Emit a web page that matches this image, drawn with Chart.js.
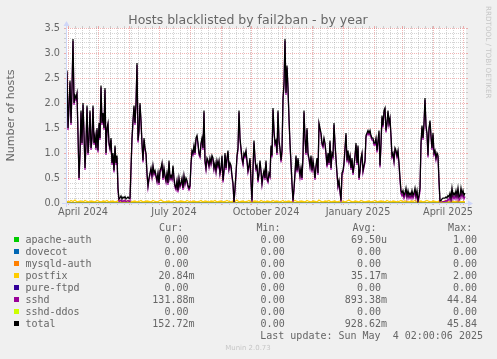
<!DOCTYPE html>
<html>
<head>
<meta charset="utf-8">
<script src="https://cdn.jsdelivr.net/npm/chart.js@4.4.1/dist/chart.umd.min.js"></script>
<style>
  html, body { margin:0; padding:0; background:#F0F0F0; }
  #wrap { position:relative; width:497px; height:359px; overflow:hidden; background:#F0F0F0; }
  #c { position:absolute; left:0; top:0; }
  .txt { position:absolute; white-space:pre; color:#666666; }
  .title { font-family:"DejaVu Sans"; font-size:12.5px; line-height:15px; left:0; width:496px; text-align:center; top:12.2px; }
  .leg { font-family:"DejaVu Sans Mono"; font-size:10px; line-height:12px; }
  .sq { position:absolute; width:5px; height:5px; }
  .wm { font-family:"DejaVu Sans"; color:#C7C7C7; }
  #rrd { writing-mode:vertical-rl; font-size:7.2px; line-height:8px; left:484px; top:6px; }
  #munin { font-size:6.94px; line-height:8px; left:0; width:496px; text-align:center; top:344.3px; }
</style>
</head>
<body>
<div id="wrap">
  <canvas id="c" width="497" height="359"></canvas>
  <div class="txt title">Hosts blacklisted by fail2ban - by year</div>
  <div class="txt wm" id="rrd">RRDTOOL / TOBI OETIKER</div>
  <div class="txt wm" id="munin">Munin 2.0.73</div>
</div>
<script>
// ---------------- data ----------------
const seriesNames  = ['apache-auth','dovecot','mysqld-auth','postfix','pure-ftpd','sshd','sshd-ddos','total'];
const seriesColors = ['#00CC00','#0066B3','#FF8000','#FFCC00','#330099','#990099','#CCFF00','#000000'];
const curValues = ['0.00 ','0.00 ','0.00 ','20.84m','0.00 ','131.88m','0.00 ','152.72m'];
const minValues = ['0.00 ','0.00 ','0.00 ','0.00 ','0.00 ','0.00 ','0.00 ','0.00 '];
const avgValues = ['69.50u','0.00 ','0.00 ','35.17m','0.00 ','893.38m','0.00 ','928.62m'];
const maxValues = ['1.00 ','0.00 ','0.00 ','2.00 ','0.00 ','44.84 ','0.00 ','45.84 '];
const columnHeaders = ['Cur:','Min:','Avg:','Max:'];
const lastUpdate = 'Last update: Sun May  4 02:00:06 2025';

// days counted from 30 March 2024
const monthStartDays   = [2,32,63,93,124,155,185,216,246,277,308,336,367,397];
const quarterLabelDays = [17,108,200,292,382];
const quarterLabels    = ['April 2024','July 2024','October 2024','January 2025','April 2025'];
const yTickLabels      = ['0.0','0.5','1.0','1.5','2.0','2.5','3.0','3.5'];

const dailyFirstDay = 1;
const totalHosts = [
2.65,1.5,1.95,2.45,1.6,2.3,3.28,2.0,2.15,2.1,
2.2,1.4,0.5,1.0,1.85,1.2,2.0,1.4,0.7,1.2,
1.95,1.0,1.3,1.85,1.1,1.3,1.95,1.2,1.35,1.1,
1.5,1.05,1.6,1.3,2.35,1.6,1.8,1.5,2.3,1.0,
1.5,1.6,1.2,1.1,1.3,0.8,1.0,0.65,1.15,0.8,
0.95,0.3,0.08,0.1,0.14,0.08,0.12,0.1,0.13,0.08,
0.1,0.12,0.09,0.1,0.7,1.3,1.65,1.95,1.6,2.0,
2.8,1.25,1.45,2.0,1.65,1.2,0.85,1.3,1.1,1.0,
0.6,0.35,0.5,0.6,0.7,0.55,0.75,0.6,0.65,0.55,
0.45,0.6,0.4,0.65,0.7,0.8,0.5,0.7,0.55,0.45,
0.6,0.4,0.85,0.5,0.55,0.5,0.75,0.5,0.35,0.3,
0.45,0.25,0.5,0.35,0.4,0.5,0.3,0.55,0.4,0.5,
0.45,0.35,0.3,0.35,0.8,1.05,1.0,1.15,1.0,1.3,
1.35,1.2,1.0,0.95,1.2,1.3,1.1,1.85,0.85,0.7,
0.9,0.85,0.75,0.9,0.8,0.95,0.9,0.7,0.8,0.65,
0.85,0.75,0.85,0.6,0.7,0.95,0.45,0.65,1.0,0.7,
0.9,1.05,0.7,0.8,0.75,0.55,0.4,0.02,0.3,0.6,
0.95,1.1,1.85,1.3,1.1,0.9,0.8,1.0,0.95,1.05,
0.85,0.65,0.75,0.9,0.45,0.05,0.7,1.25,0.9,0.7,
0.75,0.45,0.6,0.85,0.65,0.4,0.55,0.65,0.5,0.85,
0.5,0.45,0.6,0.55,1.15,0.95,1.9,1.45,1.2,1.25,
1.0,1.85,1.25,1.1,0.85,1.05,2.1,2.4,3.28,2.2,
2.75,2.3,1.7,1.2,0.8,0.4,0.05,0.3,0.6,0.95,
0.65,0.9,0.7,0.55,0.7,0.5,0.95,1.85,1.3,1.0,
1.5,1.0,0.9,0.75,0.95,0.65,0.85,0.7,0.5,0.75,
0.9,0.6,1.6,1.5,1.4,1.2,1.15,1.3,1.2,1.0,
0.75,1.0,0.8,1.25,0.7,1.0,0.95,1.6,1.2,0.9,
0.6,0.35,0.45,0.25,0.05,0.6,0.65,0.8,1.1,1.4,
0.85,1.05,0.85,0.95,0.7,0.9,0.6,0.75,0.95,1.2,
0.8,1.15,0.5,0.65,0.9,1.0,0.65,0.75,0.85,1.35,
1.4,1.45,1.4,1.45,1.35,1.3,1.3,1.2,1.2,1.3,
1.05,1.25,1.45,0.75,1.2,1.75,1.55,1.85,1.9,1.45,
1.6,1.85,1.6,1.7,1.35,0.95,1.0,0.85,1.1,1.05,
0.95,1.05,0.8,0.5,0.25,0.2,0.25,0.15,0.2,0.3,
0.15,0.25,0.15,0.2,0.15,0.25,0.15,0.2,0.3,0.15,
0.25,0.05,0.15,0.3,1.2,1.55,1.3,1.6,2.1,1.55,
1.4,0.95,1.5,1.65,1.35,1.1,1.4,1.0,1.05,0.9,
1.0,0.95,0.45,0.05,0.05,0.08,0.1,0.1,0.1,0.12,
0.1,0.15,0.12,0.2,0.1,0.3,0.15,0.2,0.15,0.25,
0.15,0.3,0.12,0.15,0.3,0.18,0.25,0.15,0.2
];
const sshdHosts = [
2.61,1.46,1.91,2.41,1.56,2.26,3.24,1.96,2.11,2.06,
2.16,1.36,0.46,0.96,1.81,1.16,1.96,1.36,0.66,1.16,
1.91,0.96,1.26,1.81,1.06,1.26,1.91,1.16,1.31,1.06,
1.46,1.01,1.56,1.26,2.31,1.56,1.76,1.46,2.26,0.96,
1.46,1.56,1.16,1.06,1.26,0.76,0.96,0.61,1.11,0.76,
0.91,0.26,0.03,0.04,0.06,0.02,0.05,0.03,0.06,0.02,
0.04,0.05,0.03,0.03,0.66,1.26,1.61,1.91,1.56,1.96,
2.76,1.21,1.41,1.96,1.61,1.16,0.81,1.26,1.06,0.96,
0.56,0.31,0.46,0.56,0.66,0.51,0.71,0.56,0.61,0.51,
0.41,0.56,0.36,0.61,0.66,0.76,0.46,0.66,0.51,0.41,
0.56,0.36,0.81,0.46,0.51,0.46,0.71,0.46,0.31,0.26,
0.41,0.21,0.46,0.31,0.36,0.46,0.26,0.51,0.36,0.46,
0.41,0.31,0.26,0.31,0.76,1.01,0.96,1.11,0.96,1.26,
1.31,1.16,0.96,0.91,1.16,1.26,1.06,1.81,0.81,0.66,
0.86,0.81,0.71,0.86,0.76,0.91,0.86,0.66,0.76,0.61,
0.81,0.71,0.81,0.56,0.66,0.91,0.41,0.61,0.96,0.66,
0.86,1.01,0.66,0.76,0.71,0.51,0.36,0.0,0.26,0.56,
0.91,1.06,1.81,1.26,1.06,0.86,0.76,0.96,0.91,1.01,
0.81,0.61,0.71,0.86,0.41,0.02,0.66,1.21,0.86,0.66,
0.71,0.41,0.56,0.81,0.61,0.36,0.51,0.61,0.46,0.81,
0.46,0.41,0.56,0.51,1.11,0.91,1.86,1.41,1.16,1.21,
0.96,1.81,1.21,1.06,0.81,1.01,2.06,2.36,3.24,2.16,
2.71,2.26,1.66,1.16,0.76,0.36,0.02,0.26,0.56,0.91,
0.61,0.86,0.66,0.51,0.66,0.46,0.91,1.81,1.26,0.96,
1.46,0.96,0.86,0.71,0.91,0.61,0.81,0.66,0.46,0.71,
0.86,0.56,1.56,1.46,1.36,1.16,1.11,1.26,1.16,0.96,
0.71,0.96,0.76,1.21,0.66,0.96,0.91,1.56,1.16,0.86,
0.56,0.31,0.41,0.21,0.02,0.56,0.61,0.76,1.06,1.36,
0.81,1.01,0.81,0.91,0.66,0.86,0.56,0.71,0.91,1.16,
0.76,1.11,0.46,0.61,0.86,0.96,0.61,0.71,0.81,1.31,
1.36,1.41,1.36,1.41,1.31,1.26,1.26,1.16,1.16,1.26,
1.01,1.21,1.41,0.71,1.16,1.71,1.51,1.81,1.86,1.41,
1.56,1.81,1.56,1.66,1.31,0.91,0.96,0.81,1.06,1.01,
0.91,1.01,0.76,0.46,0.19,0.14,0.19,0.09,0.14,0.24,
0.09,0.19,0.09,0.14,0.09,0.19,0.09,0.14,0.24,0.09,
0.19,0.01,0.09,0.24,1.16,1.51,1.26,1.56,2.06,1.51,
1.36,0.91,1.46,1.61,1.31,1.06,1.36,0.96,1.01,0.86,
0.96,0.91,0.41,0.01,0.01,0.02,0.03,0.03,0.03,0.05,
0.03,0.08,0.05,0.13,0.03,0.23,0.08,0.13,0.08,0.18,
0.08,0.23,0.05,0.08,0.23,0.11,0.18,0.08,0.13
];
const postfixFirstDay = 1;
const postfixStepDays = 2;
const postfixHosts = [
0.03,0.02,0.05,0.03,0.06,0.02,0.03,0.04,0.02,0.05,
0.03,0.02,0.04,0.03,0.02,0.05,0.03,0.02,0.04,0.03,
0.05,0.02,0.03,0.04,0.02,0.03,0.06,0.03,0.02,0.04,
0.03,0.05,0.02,0.03,0.04,0.02,0.03,0.05,0.02,0.03,
0.04,0.03,0.02,0.05,0.03,0.02,0.04,0.06,0.03,0.02,
0.03,0.04,0.02,0.03,0.05,0.02,0.03,0.04,0.03,0.02,
0.05,0.03,0.02,0.04,0.03,0.02,0.03,0.05,0.02,0.04,
0.03,0.02,0.04,0.03,0.05,0.02,0.03,0.04,0.02,0.03,
0.05,0.03,0.02,0.04,0.03,0.06,0.02,0.03,0.04,0.02,
0.03,0.05,0.02,0.03,0.04,0.03,0.02,0.05,0.03,0.02,
0.04,0.03,0.02,0.05,0.03,0.04,0.02,0.03,0.05,0.02,
0.03,0.04,0.02,0.03,0.05,0.03,0.02,0.04,0.03,0.02,
0.05,0.03,0.02,0.04,0.03,0.02,0.06,0.03,0.02,0.04,
0.03,0.05,0.02,0.03,0.04,0.02,0.03,0.05,0.03,0.02,
0.04,0.06,0.03,0.02,0.04,0.03,0.02,0.05,0.03,0.02,
0.03,0.04,0.02,0.03,0.05,0.02,0.03,0.04,0.03,0.02,
0.05,0.03,0.02,0.04,0.03,0.02,0.03,0.05,0.02,0.04,
0.03,0.02,0.04,0.03,0.05,0.02,0.03,0.04,0.02,0.03,
0.05,0.03,0.02,0.04,0.03,0.02,0.04,0.03,0.02,0.05,
0.03,0.02,0.04,0.03,0.02,0.03,0.04,0.02,0.03,0.02
];
const flatDays = [1, 399];
const apacheAuthHosts = [0, 0];
const dovecotHosts    = [0, 0];
const mysqldAuthHosts = [0, 0];
const pureFtpdHosts   = [0, 0];
const sshdDdosHosts   = [0, 0];

// ---------------- chart ----------------
const MAJOR = 'rgba(222,79,79,0.42)';
const MINOR = 'rgba(143,143,143,0.38)';
const AXIS  = '#CFD6F8';
const FONT  = '#666666';

const weekDays = [];
for (let d = monthStartDays[0]; d <= 400; d += 7) if (!monthStartDays.includes(d)) weekDays.push(d);
const xTickValues = [...new Set([...weekDays, ...monthStartDays, ...quarterLabelDays])].sort((a,b)=>a-b);

function xGridColor(v) {
  if (monthStartDays.includes(v)) return MAJOR;
  if (weekDays.includes(v)) return MINOR;
  return null;
}
function yGridColor(v) {
  return Math.round(v * 10) % 5 === 0 ? MAJOR : MINOR;
}
function daily(values, first, step) { return values.map((v, i) => ({x: first + i * step, y: v})); }
function pairs(xs, ys) { return ys.map((v, i) => ({x: xs[i], y: v})); }

const rrdPlugin = {
  id: 'rrd',
  beforeDraw(chart) {
    const {ctx, chartArea: a} = chart;
    ctx.save();
    ctx.fillStyle = '#F0F0F0'; ctx.fillRect(0, 0, chart.width, chart.height);
    ctx.fillStyle = '#FFFFFF'; ctx.fillRect(a.left, a.top, a.right - a.left, a.bottom - a.top);
    ctx.restore();
  },
  afterDatasetsDraw(chart) {
    const {ctx, chartArea: a, scales} = chart;
    ctx.save();
    ctx.lineWidth = 1;
    scales.x.ticks.forEach(t => {
      const c = xGridColor(t.value); if (!c) return;
      const px = Math.round(scales.x.getPixelForValue(t.value) - 0.5) + 0.5;
      ctx.strokeStyle = c; ctx.beginPath(); ctx.moveTo(px, a.top - 2); ctx.lineTo(px, a.top); ctx.stroke();
    });
    scales.y.ticks.forEach(t => {
      const py = Math.round(scales.y.getPixelForValue(t.value) - 0.5) + 0.5;
      ctx.strokeStyle = yGridColor(t.value); ctx.beginPath(); ctx.moveTo(a.right, py); ctx.lineTo(a.right + 2, py); ctx.stroke();
    });
    const x0 = a.left + 0.5, y0 = a.bottom + 0.5;
    ctx.strokeStyle = AXIS;
    ctx.beginPath(); ctx.moveTo(a.left - 4, y0); ctx.lineTo(a.right + 4, y0); ctx.stroke();
    ctx.beginPath(); ctx.moveTo(x0, a.bottom + 4); ctx.lineTo(x0, a.top - 4); ctx.stroke();
    ctx.fillStyle = AXIS;
    ctx.beginPath(); ctx.moveTo(a.right + 2, y0 - 3); ctx.lineTo(a.right + 2, y0 + 3); ctx.lineTo(a.right + 7, y0); ctx.closePath(); ctx.fill();
    ctx.beginPath(); ctx.moveTo(x0 - 3, a.top - 2); ctx.lineTo(x0 + 3, a.top - 2); ctx.lineTo(x0, a.top - 7); ctx.closePath(); ctx.fill();
    ctx.restore();
  }
};

const common = {borderWidth: 1, pointRadius: 0, fill: false, tension: 0};
const datasets = [
  {label: seriesNames[0], data: pairs(flatDays, apacheAuthHosts), borderColor: seriesColors[0], order: 7},
  {label: seriesNames[1], data: pairs(flatDays, dovecotHosts), borderColor: seriesColors[1], order: 6},
  {label: seriesNames[2], data: pairs(flatDays, mysqldAuthHosts), borderColor: seriesColors[2], order: 5},
  {label: seriesNames[3], data: daily(postfixHosts, postfixFirstDay, postfixStepDays), borderColor: seriesColors[3], order: 4, borderWidth: 1.3},
  {label: seriesNames[4], data: pairs(flatDays, pureFtpdHosts), borderColor: seriesColors[4], order: 3},
  {label: seriesNames[5], data: daily(sshdHosts, dailyFirstDay, 1), borderColor: seriesColors[5], order: 2, borderWidth: 1.25},
  {label: seriesNames[6], data: pairs(flatDays, sshdDdosHosts), borderColor: seriesColors[6], order: 1},
  {label: seriesNames[7], data: daily(totalHosts, dailyFirstDay, 1), borderColor: seriesColors[7], order: 0, borderWidth: 1.25}
].map(d => Object.assign({}, common, d));

new Chart(document.getElementById('c'), {
  type: 'line',
  data: {datasets},
  options: {
    responsive: false, animation: false, events: [], devicePixelRatio: 1,
    layout: {padding: {top: 28, bottom: 136, left: 0, right: 31}},
    plugins: {legend: {display: false}, tooltip: {enabled: false}, title: {display: false}},
    scales: {
      x: {
        type: 'linear', min: 0, max: 400,
        afterFit: s => { s.height = 20; },
        afterBuildTicks: s => { s.ticks = xTickValues.map(v => ({value: v})); },
        ticks: {
          autoSkip: false, maxRotation: 0, minRotation: 0, padding: 2, color: FONT,
          font: {family: 'DejaVu Sans', size: 9.72},
          callback: v => { const k = quarterLabelDays.indexOf(v); return k >= 0 ? quarterLabels[k] : ''; }
        },
        grid: {
          lineWidth: 1, drawTicks: true, tickLength: 2,
          color: c => (c.tick && xGridColor(c.tick.value)) || 'rgba(0,0,0,0)',
          tickColor: c => (c.tick && xGridColor(c.tick.value)) || 'rgba(0,0,0,0)'
        },
        border: {display: false, dash: [1, 1]}
      },
      y: {
        type: 'linear', min: 0, max: 3.5,
        afterFit: s => { s.width = 66; },
        afterBuildTicks: s => { const t = []; for (let i = 0; i <= 35; i++) t.push({value: i / 10}); s.ticks = t; },
        ticks: {
          autoSkip: false, padding: 4, color: FONT,
          font: {family: 'DejaVu Sans', size: 9.72},
          callback: v => { const k = Math.round(v * 10); return k % 5 === 0 ? yTickLabels[k / 5] : ''; }
        },
        grid: {
          lineWidth: 1, drawTicks: true, tickLength: 2,
          color: c => c.tick ? yGridColor(c.tick.value) : MINOR,
          tickColor: c => c.tick ? yGridColor(c.tick.value) : MINOR
        },
        border: {display: false, dash: [1, 1]},
        title: {display: true, text: 'Number of hosts', color: FONT, font: {family: 'DejaVu Sans', size: 11.1}, padding: {top: 4, bottom: 0}}
      }
    }
  },
  plugins: [rrdPlugin]
});

// ---------------- legend (HTML text) ----------------
const wrap = document.getElementById('wrap');
const ROW0_TOP = 233.8, ROW_H = 11.97;
const valueRightEdges = [194.5, 290.7, 387.0, 483.0];
const headerRightEdges = [183.2, 280.5, 376.5, 472.2];
function addDiv(cls, text, css) {
  const d = document.createElement('div');
  d.className = cls; d.textContent = text;
  Object.assign(d.style, css);
  wrap.appendChild(d);
}
columnHeaders.forEach((h, j) => addDiv('txt leg', h, {right: (497 - headerRightEdges[j]) + 'px', top: (ROW0_TOP - 11.7) + 'px'}));
seriesNames.forEach((name, i) => {
  const top = ROW0_TOP + ROW_H * i;
  addDiv('sq', '', {left: '14px', top: Math.round(top + 3.5) + 'px', background: seriesColors[i]});
  addDiv('txt leg', name, {left: '25.4px', top: top + 'px'});
  [curValues, minValues, avgValues, maxValues].forEach((col, j) =>
    addDiv('txt leg', col[i], {right: (497 - valueRightEdges[j]) + 'px', top: top + 'px'}));
});
addDiv('txt leg', lastUpdate, {right: (497 - 483) + 'px', top: (ROW0_TOP + ROW_H * 8) + 'px'});
</script>
</body>
</html>
